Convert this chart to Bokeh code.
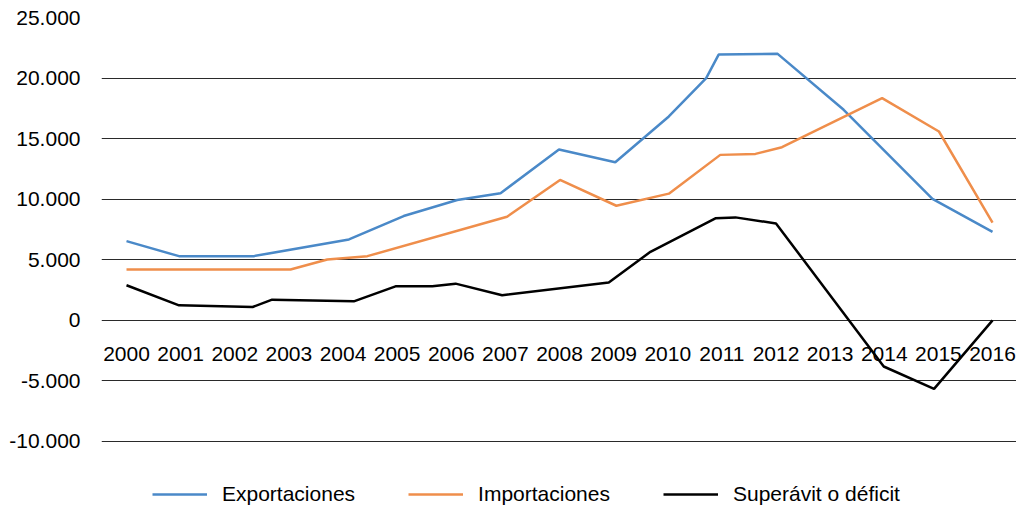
from bokeh.plotting import figure
from bokeh.models import LinearAxis, FixedTicker, Range1d, Legend, LegendItem
from bokeh.embed import file_html
from bokeh.resources import INLINE

# ---- data ----
years = list(range(2000, 2017))
year_labels = [str(y) for y in years]
y_ticks = [-10000, -5000, 0, 5000, 10000, 15000, 20000, 25000]
y_tick_labels = ["-10.000", "-5.000", "0", "5.000", "10.000", "15.000", "20.000", "25.000"]

exp_x = [2000.0, 2000.97, 2002.35, 2004.11, 2005.12, 2006.11, 2006.91, 2007.99,
         2009.03, 2010.02, 2010.71, 2010.94, 2012.03, 2013.25, 2014.89, 2016.0]
exp_y = [6540, 5300, 5300, 6680, 8610, 9930, 10490, 14100,
         13050, 16830, 20000, 21940, 22000, 17380, 10020, 7310]

imp_x = [2000.0, 2003.03, 2003.71, 2004.45, 2007.03, 2008.01, 2009.05, 2010.02,
         2010.97, 2011.62, 2012.11, 2013.96, 2015.01, 2016.0]
imp_y = [4200, 4200, 5020, 5300, 8550, 11590, 9460, 10460,
         13660, 13740, 14290, 18350, 15590, 8060]

bal_x = [2000.0, 2000.97, 2002.33, 2002.69, 2004.2, 2004.97, 2005.65, 2006.08,
         2006.94, 2008.91, 2009.68, 2010.88, 2011.25, 2012.0, 2013.99, 2014.92, 2016.0]
bal_y = [2900, 1240, 1100, 1710, 1570, 2810, 2810, 3030,
         2070, 3120, 5660, 8420, 8500, 8000, -3810, -5660, 0]

series_names = ["Exportaciones", "Importaciones", "Superávit o déficit"]
series_colors = ["#4a89c8", "#ef8e4b", "#000000"]

FONT = "Liberation Sans"
FSIZE = "21px"

p = figure(width=1016, height=506, output_backend="svg", toolbar_location=None,
           x_range=Range1d(1999.538, 2016.443), y_range=Range1d(-15366, 25000),
           x_axis_location=None, min_border_left=101, min_border_right=0,
           min_border_top=17, min_border_bottom=0)
p.outline_line_color = None
p.background_fill_color = "white"
p.border_fill_color = "white"

# y axis
ya = p.yaxis[0]
ya.ticker = FixedTicker(ticks=y_ticks)
ya.major_label_overrides = {t: l for t, l in zip(y_ticks, y_tick_labels)}
ya.axis_line_color = None
ya.major_tick_line_color = None
ya.minor_tick_line_color = None
ya.major_tick_out = 0
ya.major_label_standoff = 21
ya.major_label_text_font = FONT
ya.major_label_text_font_size = FSIZE
ya.major_label_text_color = "#000000"

for g in p.ygrid:
    g.ticker = FixedTicker(ticks=y_ticks)
    g.grid_line_color = "#2a2a2a"
    g.grid_line_width = 1.2
for g in p.xgrid:
    g.visible = False

# x axis at zero
xa = LinearAxis(fixed_location=0, ticker=FixedTicker(ticks=years),
                major_label_overrides={y: l for y, l in zip(years, year_labels)},
                axis_line_color=None, major_tick_line_color=None,
                minor_tick_line_color=None, major_tick_out=0,
                major_label_standoff=27, major_label_text_font=FONT,
                major_label_text_font_size=FSIZE, major_label_text_color="#000000")
p.add_layout(xa, "below")

r1 = p.line(exp_x, exp_y, line_color=series_colors[0], line_width=2.5)
r2 = p.line(imp_x, imp_y, line_color=series_colors[1], line_width=2.5)
r3 = p.line(bal_x, bal_y, line_color=series_colors[2], line_width=2.5)

legend = Legend(items=[LegendItem(label=series_names[0], renderers=[r1]),
                       LegendItem(label=series_names[1], renderers=[r2]),
                       LegendItem(label=series_names[2], renderers=[r3])],
                orientation="horizontal", location=(51, 0),
                border_line_color=None, background_fill_alpha=0,
                padding=0, margin=0, spacing=53, glyph_width=55,
                label_standoff=15, label_text_font=FONT,
                label_text_font_size=FSIZE, label_text_color="#000000")
p.add_layout(legend)

open("out.html", "w").write(file_html(p, INLINE))
